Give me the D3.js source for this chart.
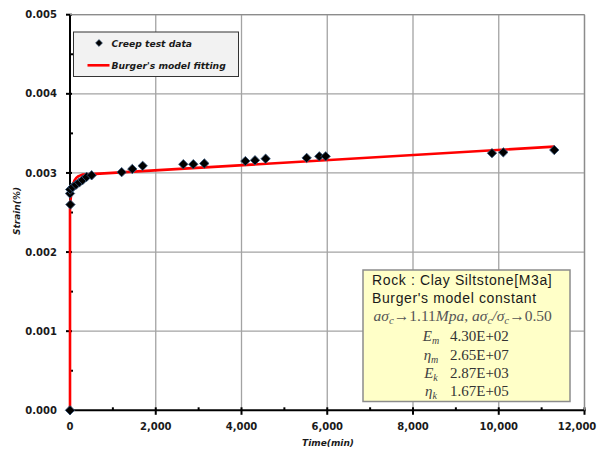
<!DOCTYPE html>
<html><head><meta charset="utf-8">
<script src="https://cdn.jsdelivr.net/npm/d3@7"></script>
<style>body{margin:0;background:#fff}svg{display:block}</style>
</head><body>
<svg id="c" width="602" height="452"></svg>
<script>
// ---- data ----
const testTime   = [0, 10, 0, 5, 60, 140, 218, 295, 388, 505, 1205, 1453, 1695, 2643, 2876, 3133, 4090, 4315, 4563, 5520, 5815, 5963, 9842, 10106, 11295];
const testStrain = [0, 0.00260, 0.00274, 0.00279, 0.00282, 0.00285, 0.00288, 0.00291, 0.00295, 0.00297, 0.00301, 0.00305, 0.00309, 0.00311, 0.00311, 0.00312, 0.00315, 0.00316, 0.00318, 0.00319, 0.00321, 0.00321, 0.00325, 0.00326, 0.00329];
const fitTime    = [0, 0, 10, 25, 50, 75, 100, 150, 200, 300, 500, 11295];
const fitStrain  = [0, 0.00258, 0.00264, 0.00272, 0.00280, 0.00286, 0.00290, 0.00294, 0.00296, 0.00298, 0.002985, 0.003333];
const xTicks = [0, 2000, 4000, 6000, 8000, 10000, 12000];
const xMinor = [1000, 3000, 5000, 7000, 9000, 11000];
const yTicks = [0, 0.001, 0.002, 0.003, 0.004, 0.005];
const yMinor = [0.0005, 0.0015, 0.0025, 0.0035, 0.0045];
const legendLabels = ["Creep test data", "Burger's model fitting"];
const boxLines = ["Rock : Clay Siltstone[M3a]", "Burger's model constant"];
const paramNames = [["E","m"], ["η","m"], ["E","k"], ["η","k"]];
const paramValues = ["4.30E+02", "2.65E+07", "2.87E+03", "1.67E+05"];

const svg = d3.select("#c");
const x = d3.scaleLinear().domain([0, 12000]).range([70, 584.5]);
const y = d3.scaleLinear().domain([0, 0.005]).range([410.3, 14.7]);
const x0 = x.range()[0], x1 = x.range()[1], y0 = y.range()[0], y1 = y.range()[1];

// grid
const g = svg.append("g");
g.selectAll(".gx").data(xTicks.slice(1)).join("line")
  .attr("x1", d => x(d)).attr("x2", d => x(d)).attr("y1", y1).attr("y2", y0)
  .attr("stroke", "#a3a3a3").attr("stroke-width", 1.3);
g.selectAll(".gy").data(yTicks.slice(1)).join("line")
  .attr("x1", x0).attr("x2", x1).attr("y1", d => y(d)).attr("y2", d => y(d))
  .attr("stroke", "#a3a3a3").attr("stroke-width", 1.3);

// axes lines
svg.append("line").attr("x1", x0).attr("x2", x0).attr("y1", y1).attr("y2", y0).attr("stroke", "#000").attr("stroke-width", 2);
svg.append("line").attr("x1", x0).attr("x2", x1 + 1).attr("y1", y0).attr("y2", y0).attr("stroke", "#000").attr("stroke-width", 2);

// ticks
svg.selectAll(".ty").data(yTicks).join("line")
  .attr("x1", x0 - 4).attr("x2", x0 + 2).attr("y1", d => y(d)).attr("y2", d => y(d))
  .attr("stroke", "#000").attr("stroke-width", 2);
svg.selectAll(".tym").data(yMinor).join("line")
  .attr("x1", x0).attr("x2", x0 + 3).attr("y1", d => y(d)).attr("y2", d => y(d))
  .attr("stroke", "#000").attr("stroke-width", 2);
svg.selectAll(".tx").data(xTicks).join("line")
  .attr("x1", d => x(d)).attr("x2", d => x(d)).attr("y1", y0 - 3).attr("y2", y0 + 4.5)
  .attr("stroke", "#000").attr("stroke-width", 2);
svg.selectAll(".txm").data(xMinor).join("line")
  .attr("x1", d => x(d)).attr("x2", d => x(d)).attr("y1", y0 - 3).attr("y2", y0)
  .attr("stroke", "#000").attr("stroke-width", 2);

// tick labels
const fmtY = d3.format(".3f"), fmtX = d3.format(",");
svg.selectAll(".ly").data(yTicks).join("text")
  .attr("x", 57).attr("y", d => y(d)).attr("dy", "0.36em").attr("text-anchor", "end")
  .attr("font-family", "DejaVu Sans").attr("font-weight", "bold").attr("font-size", 10).attr("fill", "#1a1a1a")
  .text(d => fmtY(d));
svg.selectAll(".lx").data(xTicks).join("text")
  .attr("x", d => Math.min(x(d), 577)).attr("y", 430).attr("text-anchor", "middle")
  .attr("font-family", "DejaVu Sans").attr("font-weight", "bold").attr("font-size", 10).attr("fill", "#1a1a1a")
  .text(d => fmtX(d));

// axis titles
svg.append("text").attr("x", 328).attr("y", 446).attr("text-anchor", "middle")
  .attr("font-family", "DejaVu Sans").attr("font-weight", "bold").attr("font-style", "italic").attr("font-size", 9)
  .attr("fill", "#1a1a1a").text("Time(min)");
svg.append("text").attr("transform", "translate(20,211) rotate(-90)").attr("text-anchor", "middle")
  .attr("font-family", "DejaVu Sans").attr("font-weight", "bold").attr("font-style", "italic").attr("font-size", 9)
  .attr("fill", "#1a1a1a").text("Strain(%)");

// fit line
const fitData = fitTime.map((t, i) => [t, fitStrain[i]]);
svg.append("path").datum(fitData)
  .attr("d", d3.line().x(d => x(d[0])).y(d => y(d[1])).curve(d3.curveLinear))
  .attr("fill", "none").attr("stroke", "#ff0000").attr("stroke-width", 2.6).attr("stroke-linejoin", "round");

// markers (square rotated 45deg -> diamond)
const diamond = d3.symbol().type(d3.symbolSquare).size(44);
const pts = testTime.map((t, i) => [t, testStrain[i]]);
svg.selectAll(".pt").data(pts).join("path")
  .attr("d", diamond).attr("transform", d => `translate(${x(d[0])},${y(d[1])}) rotate(45)`)
  .attr("fill", "#000").attr("stroke", "#35557a").attr("stroke-width", 0.8);

// legend
const lg = svg.append("g");
lg.append("rect").attr("x", 73.5).attr("y", 32).attr("width", 165).attr("height", 44.5)
  .attr("fill", "#f2f2f2").attr("stroke", "#333").attr("stroke-width", 1);
lg.append("path").attr("d", d3.symbol().type(d3.symbolSquare).size(24)).attr("transform", "translate(99,43) rotate(45)")
  .attr("fill", "#000").attr("stroke", "#35557a").attr("stroke-width", 0.6);
lg.append("line").attr("x1", 87.5).attr("x2", 109.5).attr("y1", 65.3).attr("y2", 65.3)
  .attr("stroke", "#ff0000").attr("stroke-width", 2.6);
lg.selectAll(".lt").data(legendLabels).join("text")
  .attr("x", 111.5).attr("y", (d, i) => 46.8 + i * 22.3)
  .attr("font-family", "DejaVu Sans").attr("font-weight", "bold").attr("font-style", "italic").attr("font-size", 9.2)
  .attr("fill", "#1a1a1a").text(d => d);

// annotation box
const ab = svg.append("g");
ab.append("rect").attr("x", 363).attr("y", 270).attr("width", 207).attr("height", 131.5)
  .attr("fill", "#ffffc8").attr("stroke", "#8c8c8c").attr("stroke-width", 1.5);
ab.selectAll(".bl").data(boxLines).join("text")
  .attr("x", 372).attr("y", (d, i) => 285 + i * 18)
  .attr("font-family", "Liberation Sans").attr("font-size", 14).attr("letter-spacing", 0.62)
  .attr("fill", "#1a1a1a").text(d => d);
const m = ab.append("text").attr("x", 373.5).attr("y", 321)
  .attr("font-family", "Liberation Serif").attr("font-size", 15.5).attr("fill", "#555");
const parts = [["aσ", "i", 0], ["c", "i", 1], ["→1.11", "n", 0], ["Mpa", "i", 0], [", ", "n", 0],
  ["aσ", "i", 0], ["c", "i", 1], ["/", "i", 0], ["σ", "i", 0], ["c", "i", 1], ["→0.50", "n", 0]];
let prevSub = 0;
parts.forEach(p => {
  const ts = m.append("tspan").text(p[0]).attr("font-style", p[1] === "i" ? "italic" : "normal");
  const dy = (p[2] ? 3 : 0) - (prevSub ? 3 : 0);
  if (dy) ts.attr("dy", dy);
  if (p[2]) ts.attr("font-size", 11);
  prevSub = p[2];
});
const rowY = [341, 359.5, 377.5, 396];
paramNames.forEach((p, i) => {
  const t = ab.append("text").attr("x", 431).attr("y", rowY[i]).attr("text-anchor", "middle")
    .attr("font-family", "Liberation Serif").attr("font-style", "italic").attr("font-size", 15).attr("fill", "#444");
  t.append("tspan").text(p[0]);
  t.append("tspan").text(p[1]).attr("font-size", 10).attr("dy", 3);
  ab.append("text").attr("x", 450).attr("y", rowY[i])
    .attr("font-family", "Liberation Serif").attr("font-size", 15).attr("fill", "#333").text(paramValues[i]);
});

// plot border top & right (gray)
svg.append("line").attr("x1", x0).attr("x2", x1).attr("y1", y1).attr("y2", y1).attr("stroke", "#8c8c8c").attr("stroke-width", 1.3);
svg.append("line").attr("x1", x1).attr("x2", x1).attr("y1", y1).attr("y2", y0).attr("stroke", "#8c8c8c").attr("stroke-width", 1.3);
</script>
</body></html>
